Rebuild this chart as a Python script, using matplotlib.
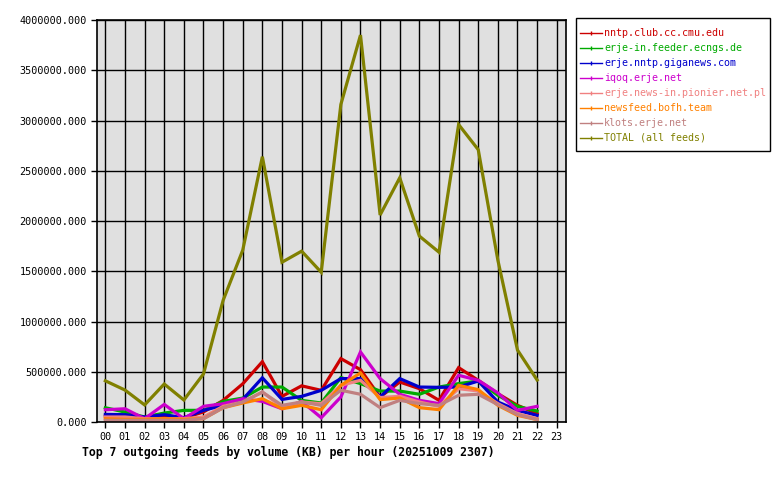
import matplotlib
matplotlib.use("Agg")
import matplotlib.pyplot as plt
from matplotlib.lines import Line2D
from matplotlib.patches import Rectangle

plt.rcParams['font.family'] = ['DejaVu Sans Mono']

hours = list(range(23))
hour_labels = ["%02d" % h for h in range(24)]

feeds = [
    "nntp.club.cc.cmu.edu",
    "erje-in.feeder.ecngs.de",
    "erje.nntp.giganews.com",
    "iqoq.erje.net",
    "erje.news-in.pionier.net.pl",
    "newsfeed.bofh.team",
    "klots.erje.net",
    "TOTAL (all feeds)",
]
colors = ["#cc0000", "#00aa00", "#0000cc", "#cc00cc",
          "#f08080", "#ff8000", "#c08080", "#808000"]

# KB per hour
cmu = [60e3, 50e3, 40e3, 50e3, 40e3, 100e3, 215e3, 380e3, 600e3, 255e3, 360e3, 315e3,
       631e3, 521e3, 249e3, 398e3, 332e3, 216e3, 541e3, 415e3, 282e3, 166e3, 83e3]
ecngs = [142e3, 99e3, 50e3, 89e3, 116e3, 116e3, 205e3, 238e3, 348e3, 348e3, 215e3, 189e3,
         442e3, 382e3, 308e3, 308e3, 276e3, 348e3, 382e3, 408e3, 266e3, 156e3, 109e3]
giganews = [76e3, 73e3, 50e3, 73e3, 43e3, 116e3, 166e3, 225e3, 440e3, 225e3, 255e3, 315e3,
            432e3, 432e3, 249e3, 432e3, 348e3, 345e3, 348e3, 408e3, 199e3, 116e3, 66e3]
iqoq = [122e3, 132e3, 33e3, 175e3, 33e3, 156e3, 182e3, 232e3, 205e3, 132e3, 205e3, 43e3,
        249e3, 697e3, 432e3, 276e3, 216e3, 183e3, 465e3, 415e3, 289e3, 116e3, 156e3]
pionier = [50e3, 50e3, 33e3, 33e3, 33e3, 50e3, 156e3, 199e3, 298e3, 149e3, 199e3, 182e3,
           365e3, 415e3, 243e3, 256e3, 199e3, 156e3, 332e3, 309e3, 183e3, 83e3, 33e3]
bofh = [33e3, 27e3, 27e3, 33e3, 27e3, 33e3, 142e3, 189e3, 232e3, 132e3, 166e3, 122e3,
        365e3, 488e3, 223e3, 239e3, 143e3, 123e3, 365e3, 322e3, 166e3, 66e3, 24e3]
klots = [17e3, 17e3, 17e3, 17e3, 17e3, 33e3, 142e3, 199e3, 298e3, 166e3, 199e3, 166e3,
         316e3, 276e3, 143e3, 216e3, 183e3, 166e3, 266e3, 276e3, 173e3, 74e3, 24e3]
total = [410e3, 318e3, 170e3, 378e3, 219e3, 478e3, 1210e3, 1710e3, 2640e3, 1590e3, 1700e3, 1490e3,
         3160e3, 3850e3, 2060e3, 2430e3, 1850e3, 1690e3, 2960e3, 2710e3, 1610e3, 716e3, 418e3]

series = [cmu, ecngs, giganews, iqoq, pionier, bofh, klots, total]

fig = plt.figure(figsize=(7.8, 4.8), dpi=100)
ax = fig.add_axes([0.124, 0.1208, 0.6016, 0.8375])
ax.set_facecolor("#e0e0e0")

for vals, c in zip(series, colors):
    ax.plot(hours, vals, color=c, linewidth=2.3, solid_joinstyle='miter')

ax.set_xlim(-0.44, 23.47)
ax.set_ylim(0, 4000000)
ax.set_xticks(range(24))
ax.set_xticklabels(hour_labels, fontsize=7.3)
ax.set_yticks([i * 500000 for i in range(9)])
ax.set_yticklabels(["%.3f" % (i * 500000) for i in range(9)], fontsize=7.3)
ax.grid(True, color="black", linewidth=1.0)
ax.set_axisbelow(True)
ax.tick_params(length=4, width=1, color="black", pad=3)
for s in ax.spines.values():
    s.set_linewidth(1.2)

# legend box drawn by hand so the padding can differ per side
fig.patches.append(Rectangle((576 / 780, 1 - 151 / 480), 194 / 780, 133 / 480,
                             transform=fig.transFigure, facecolor="white",
                             edgecolor="black", linewidth=1.0))
handles = [Line2D([], [], color=c, linewidth=1, marker='|', markersize=3) for c in colors]
leg = fig.legend(handles, feeds, loc="upper left", bbox_to_anchor=(580 / 780, 1 - 28 / 480),
                 fontsize=7.2, frameon=False, handlelength=2.2, handletextpad=0.2,
                 labelspacing=0.5, borderpad=0, borderaxespad=0)
for txt, c in zip(leg.get_texts(), colors):
    txt.set_color(c)

fig.text(82 / 780, 1 - 452 / 480, "Top 7 outgoing feeds by volume (KB) per hour (20251009 2307)",
         fontsize=8.3, fontweight="bold", va="center", ha="left")

fig.savefig("out.png", dpi=100)
